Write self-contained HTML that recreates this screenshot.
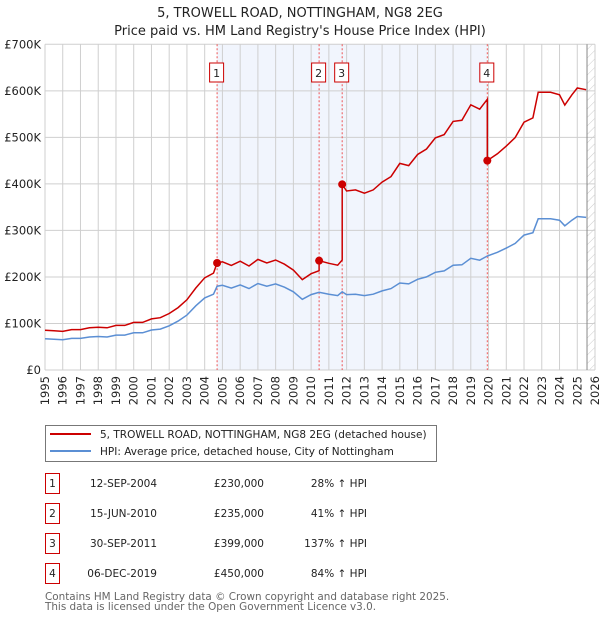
<!DOCTYPE html>
<html><head><meta charset="utf-8"><style>
body{margin:0;background:#fff;}
svg{display:block;font-family:"DejaVu Sans","Liberation Sans",sans-serif;}
</style></head><body>
<svg id="c" width="600" height="620" viewBox="0 0 600 620"></svg>
<script>
const hpiYears=[1995,1995.5,1996,1996.5,1997,1997.5,1998,1998.5,1999,1999.5,2000,2000.5,2001,2001.5,2002,2002.5,2003,2003.5,2004,2004.5,2004.7,2005,2005.5,2006,2006.5,2007,2007.5,2008,2008.5,2009,2009.5,2010,2010.45,2011,2011.5,2011.75,2012,2012.5,2013,2013.5,2014,2014.5,2015,2015.5,2016,2016.5,2017,2017.5,2018,2018.5,2019,2019.5,2019.93,2020.5,2021,2021.5,2022,2022.5,2022.8,2023.5,2024,2024.3,2024.7,2025,2025.5];
const hpiValues=[67,66,65,68,68,71,72,71,75,75,80,80,86,88,95,105,118,138,155,163,180,182,176,183,175,186,180,185,178,168,152,162,167,163,160,168,162,163,160,163,170,175,187,185,195,200,210,213,225,226,240,236,245,253,262,272,290,295,325,325,322,310,322,330,328];
const saleLabels=["1","2","3","4"];
const saleYears=[2004.7,2010.45,2011.75,2019.93];
const salePrices=[230,235,399,450];
const saleDates=["12-SEP-2004","15-JUN-2010","30-SEP-2011","06-DEC-2019"];
const salePriceText=["£230,000","£235,000","£399,000","£450,000"];
const salePctText=["28% ↑ HPI","41% ↑ HPI","137% ↑ HPI","84% ↑ HPI"];
const yTicks=[0,100,200,300,400,500,600,700];
const yTickLabels=["£0","£100K","£200K","£300K","£400K","£500K","£600K","£700K"];
const xYears=[1995,1996,1997,1998,1999,2000,2001,2002,2003,2004,2005,2006,2007,2008,2009,2010,2011,2012,2013,2014,2015,2016,2017,2018,2019,2020,2021,2022,2023,2024,2025,2026];

const X0=45,X1=595,Y0=370,Y1=44.3;
const x=y=>X0+(y-1995)/(2026-1995)*(X1-X0);
const yv=v=>Y0-v/700*(Y0-Y1);
const NS="http://www.w3.org/2000/svg";
const svg=document.getElementById('c');
function mk(tag,at,txt){const e=document.createElementNS(NS,tag);for(const k in at)e.setAttribute(k,at[k]);if(txt!==undefined)e.textContent=txt;svg.appendChild(e);return e;}
function hpiAt(t){for(let i=0;i<hpiYears.length-1;i++){if(t<=hpiYears[i+1]){const f=(t-hpiYears[i])/(hpiYears[i+1]-hpiYears[i]);return hpiValues[i]+f*(hpiValues[i+1]-hpiValues[i]);}}return hpiValues[hpiValues.length-1];}

let e;
e=mk('text',{x:300,y:17,'text-anchor':'middle','font-size':13,fill:'#222'},'5, TROWELL ROAD, NOTTINGHAM, NG8 2EG');


e=mk('text',{x:300,y:35,'text-anchor':'middle','font-size':13,fill:'#222'},"Price paid vs. HM Land Registry's House Price Index (HPI)");



e=mk('rect',{x:x(saleYears[0]),y:Y1,width:x(saleYears[3])-x(saleYears[0]),height:Y0-Y1,fill:'#eef3fc',opacity:0.8});


const defs=mk('defs',{});
defs.innerHTML='<pattern id="h" width="6" height="6" patternUnits="userSpaceOnUse" patternTransform="rotate(45)"><line x1="0" y1="0" x2="0" y2="6" stroke="#ccc" stroke-width="1"/></pattern>';
e=mk('rect',{x:x(2025.55),y:Y1,width:X1-x(2025.55),height:Y0-Y1,fill:'url(#h)'});



xYears.forEach(yr=>{e=mk('line',{x1:x(yr),x2:x(yr),y1:Y1,y2:Y0,stroke:'#cfcfcf','stroke-width':1});


e=mk('text',{transform:`translate(${x(yr)+4},${Y0+6}) rotate(-90)`,'text-anchor':'end','font-size':11.5,fill:'#222'},String(yr));

});
yTicks.forEach((v,i)=>{e=mk('line',{x1:X0,x2:X1,y1:yv(v),y2:yv(v),stroke:'#cfcfcf','stroke-width':1});


e=mk('text',{x:X0-4,y:yv(v)+4,'text-anchor':'end','font-size':11.5,fill:'#222'},yTickLabels[i]);

});
e=mk('line',{x1:x(2025.55),x2:x(2025.55),y1:Y1,y2:Y0,stroke:'#888','stroke-width':1});



saleYears.forEach((t,i)=>{e=mk('line',{x1:x(t),x2:x(t),y1:Y1,y2:Y0,stroke:'#e55','stroke-width':1,'stroke-dasharray':'2,2'});


e=mk('rect',{x:x(t)-7.5,y:63,width:14,height:19,fill:'#fff',stroke:'#c00','stroke-width':1});


e=mk('text',{x:x(t)-0.5,y:77,'text-anchor':'middle','font-size':11,fill:'#222'},saleLabels[i]);

});

let d=hpiYears.map((t,i)=>(i?'L':'M')+x(t).toFixed(1)+','+yv(hpiValues[i]).toFixed(1)).join('');
e=mk('path',{d:d,fill:'none',stroke:'#5b8fd4','stroke-width':1.5});


let pts=[];
const grid=[...new Set(hpiYears.concat(saleYears))].sort((a,b)=>a-b);
grid.forEach(t=>{
  let k=0;for(let i=0;i<saleYears.length;i++)if(t>=saleYears[i])k=i;
  if(saleYears.includes(t)&&saleYears.indexOf(t)>0){const j=saleYears.indexOf(t);pts.push([t,hpiAt(t)*salePrices[j-1]/hpiAt(saleYears[j-1])]);}
  pts.push([t,hpiAt(t)*salePrices[k]/hpiAt(saleYears[k])]);
});
d=pts.map((p,i)=>(i?'L':'M')+x(p[0]).toFixed(1)+','+yv(p[1]).toFixed(1)).join('');
e=mk('path',{d:d,fill:'none',stroke:'#cc0000','stroke-width':1.5});


saleYears.forEach((t,i)=>{e=mk('circle',{cx:x(t),cy:yv(salePrices[i]),r:4,fill:'#cc0000'});

});

e=mk('rect',{x:45.5,y:425.5,width:391,height:36,fill:'#fff',stroke:'#777','stroke-width':1});


e=mk('line',{x1:50,x2:91,y1:434,y2:434,stroke:'#cc0000','stroke-width':2});


e=mk('text',{x:100,y:438,'font-size':10.5,fill:'#222'},'5, TROWELL ROAD, NOTTINGHAM, NG8 2EG (detached house)');


e=mk('line',{x1:50,x2:91,y1:451,y2:451,stroke:'#5b8fd4','stroke-width':2});


e=mk('text',{x:100,y:455,'font-size':10.5,fill:'#222'},'HPI: Average price, detached house, City of Nottingham');



saleLabels.forEach((l,i)=>{const cy=483+i*30;
e=mk('rect',{x:45.5,y:cy-9.5,width:14,height:20,fill:'#fff',stroke:'#c00','stroke-width':1});


e=mk('text',{x:52.5,y:cy+4,'text-anchor':'middle','font-size':10.5,fill:'#222'},l);


e=mk('text',{x:157,y:cy+4,'text-anchor':'end','font-size':10.5,fill:'#222'},saleDates[i]);


e=mk('text',{x:264,y:cy+4,'text-anchor':'end','font-size':10.5,fill:'#222'},salePriceText[i]);


e=mk('text',{x:367,y:cy+4,'text-anchor':'end','font-size':10.5,fill:'#222'},salePctText[i]);

});

e=mk('text',{x:45,y:600,'font-size':10.4,fill:'#666'},'Contains HM Land Registry data © Crown copyright and database right 2025.');


e=mk('text',{x:45,y:610,'font-size':10.4,fill:'#666'},'This data is licensed under the Open Government Licence v3.0.');


</script>
</body></html>
